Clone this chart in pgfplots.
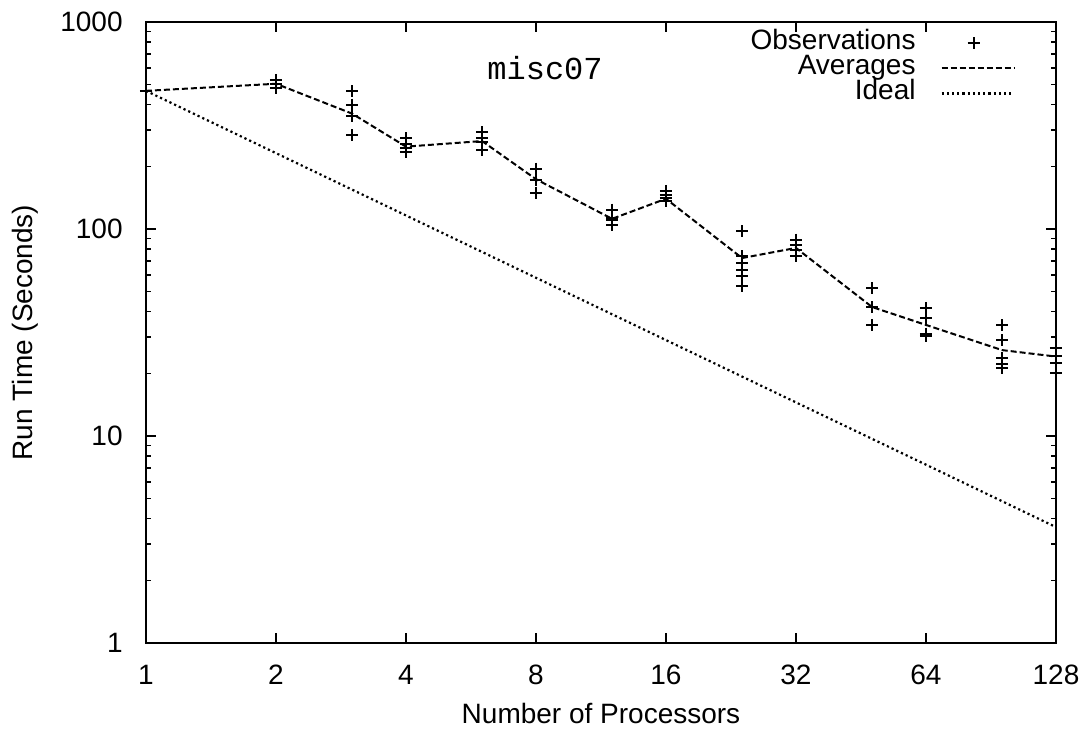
\documentclass[border=0pt]{standalone}
\usepackage{pgfplots}
\pgfplotsset{compat=1.18}
\usepackage{fontspec}
\setmainfont{Liberation Sans}
\newfontfamily\monofont{Liberation Mono}
\pgfplotsset{
  obslegend/.style={legend image code/.code={\draw[##1] plot coordinates {(0.56cm,0cm)};}},
  linelegend/.style={legend image code/.code={\draw[##1] (0cm,0cm) -- (1.27cm,0cm);}},
}
\begin{document}
\begin{tikzpicture}
\useasboundingbox (-73pt,-46.5pt) rectangle (470.5pt,321.5pt);
\begin{axis}[
  at={(0,0)}, anchor=south west,
  scale only axis, width=455pt, height=310.5pt,
  xmode=log, ymode=log, log basis x=2,
  xmin=1, xmax=128, ymin=1, ymax=1000,
  xtick={1,2,4,8,16,32,64,128},
  xticklabels={1,2,4,8,16,32,64,128},
  ytick={1,10,100,1000},
  yticklabels={1,10,100,1000},
  minor x tick num=0,
  tick align=inside,
  major tick length=5pt, minor tick length=2.5pt,
  every tick/.style={black, line width=0.8pt},
  axis line style={line width=1.1pt},
  tick label style={font=\fontsize{14}{16}\selectfont},
  xticklabel style={inner sep=0pt, anchor=north, yshift=-11pt},
  yticklabel style={inner sep=0pt, anchor=east, xshift=-11.5pt},
  label style={font=\fontsize{14}{16}\selectfont},
  xlabel={Number of Processors},
  xlabel style={at={(axis description cs:0.5,0)}, anchor=base, yshift=-40pt, inner sep=0pt},
  legend cell align=right,
  legend plot pos=right,
  legend style={at={(rel axis cs:0.955,1)}, anchor=north east, yshift=-4.5pt,
    inner sep=0pt, outer sep=0pt, draw=none, fill=none,
    font=\fontsize{14}{16}\selectfont,
    nodes={inner sep=0pt, text height=9.5pt, text depth=3pt},
    column sep=12.5pt},
  clip=false,
]
\addplot[only marks, mark=+, mark size=3pt, line width=1pt, black, obslegend]
coordinates {
(1,465)
(2,525) (2,500) (2,478)
(3,463) (3,399) (3,351) (3,284)
(4,274) (4,258) (4,247) (4,235)
(6,293) (6,276) (6,264) (6,241)
(8,196) (8,173) (8,150)
(12,124) (12,113) (12,110) (12,105)
(16,153) (16,146) (16,141) (16,136)
(24,97.4) (24,73.8) (24,68.5) (24,63.7) (24,59.1) (24,52.9)
(32,88.8) (32,84) (32,79.5) (32,73.8)
(48,51.6) (48,41.9) (48,34.4)
(64,41.6) (64,37.2) (64,31.2) (64,30.4)
(96,34.2) (96,29) (96,23.8) (96,22.4) (96,21.4)
(128,26.7) (128,24.4) (128,22.6) (128,20.2)
};
\addlegendentry{Observations}
\addplot[black, line width=1pt, dash pattern=on 3pt off 1.5pt, linelegend]
coordinates {
(1,465) (2,503) (3,361) (4,250) (6,266) (8,174) (12,112) (16,140)
(24,72.4) (32,81) (48,42) (64,34.4) (96,26) (128,24.2)
};
\addlegendentry{Averages}
\addplot[black, line width=1.1pt, dash pattern=on 1.1pt off 1.5pt, linelegend]
coordinates {
(1,465) (2,232.5) (4,116.25) (8,58.125) (16,29.06) (32,14.53) (64,7.27) (128,3.63)
};
\addlegendentry{Ideal}
\node[anchor=base, inner sep=0pt, font=\monofont\fontsize{16}{18}\selectfont]
  at ([yshift=-29pt]rel axis cs:0.4385,1) {misc07};
\node[rotate=90, anchor=center, inner sep=0pt, font=\fontsize{14}{16}\selectfont]
  at ([xshift=-60.5pt]rel axis cs:0,0.5) {Run Time (Seconds)};
\end{axis}
\end{tikzpicture}
\end{document}
